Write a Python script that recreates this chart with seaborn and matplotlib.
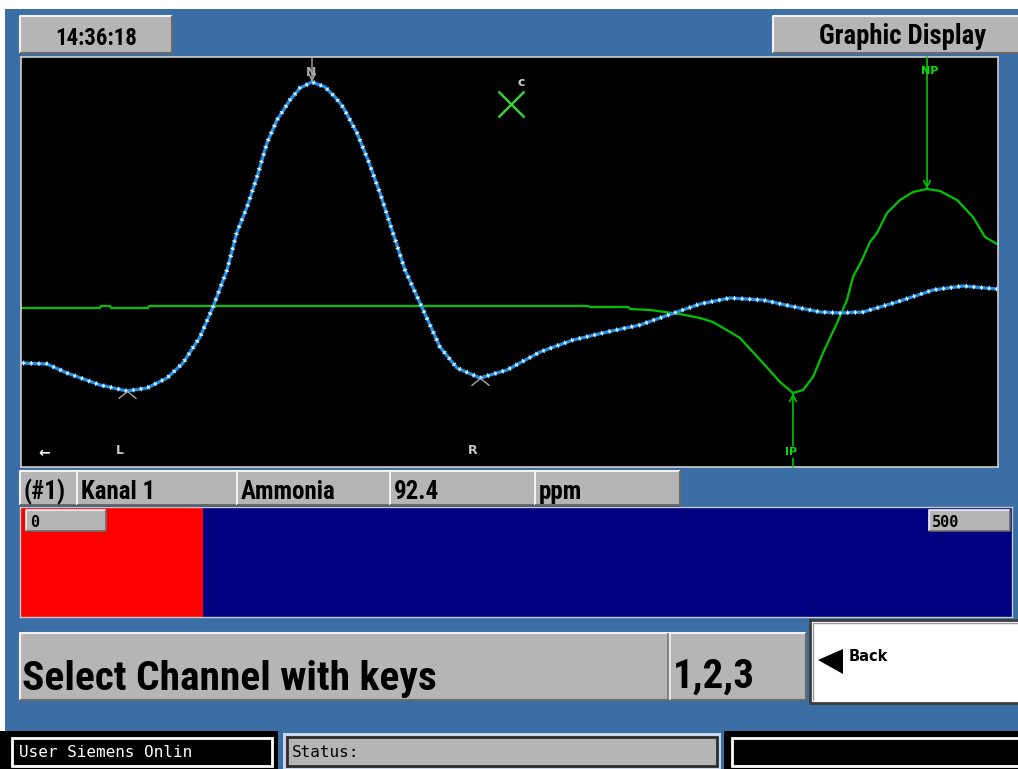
import matplotlib
matplotlib.use("Agg")
import os
import matplotlib.pyplot as plt
from matplotlib import font_manager
from matplotlib.patches import Rectangle, Polygon
from matplotlib.path import Path
import numpy as np
import pandas as pd
import seaborn as sns

W, H = 1018, 769

blue_t = [1, 26, 46, 79, 106, 126, 146, 162, 179, 192, 206, 216, 226, 236, 246, 256,
          269, 279, 291, 304, 314, 322, 336, 347, 359, 372, 384, 399, 419, 436, 459, 486,
          519, 552, 586, 619, 656, 679, 709, 742, 769, 799, 819, 842, 876, 912, 942, 976]
blue_s = [104, 103, 94, 82, 76, 79, 89, 104, 130, 160, 197, 235, 260, 290, 324, 347,
          367, 379, 385, 380, 370, 360, 334, 307, 274, 234, 197, 164, 120, 99, 89, 97,
          115, 127, 135, 142, 155, 163, 169, 167, 161, 155, 154, 155, 165, 177, 181, 178]

# reference / derivative trace
green_t = [0, 79, 80, 89, 90, 127, 128, 567, 569, 607, 609, 629, 659, 679, 692, 709, 719,
           742, 759, 772, 782, 792, 802, 816, 826, 832, 841, 849, 856, 866, 879, 892, 906,
           919, 936, 952, 964, 976]
green_s = [159, 159, 161, 161, 159, 159, 161, 161, 160, 160, 158, 157, 153, 149, 145, 135, 129,
           104, 85, 74, 77, 90, 114, 144, 167, 190, 207, 225, 234, 254, 267, 275, 278,
           276, 267, 250, 230, 223]

cursor_t, cursor_s = 490, 363

clock = "14:36:18"
title = "Graphic Display"
info_cells = ["(#1)", "Kanal 1", "Ammonia", "92.4", "ppm"]
reading = 92.4
scale_min, scale_max = 0, 500
message = "Select Channel with keys"
keys = "1,2,3"

BLUE_BG = "#3a6ea5"
GRAY = "#b5b5b5"
GREEN = "#00c400"
TRACE = "#1e8fe8"
MARK = "#a8a8a8"


def narrow_bold():
    files = {}
    for f in font_manager.fontManager.ttflist:
        base = os.path.splitext(os.path.basename(f.fname))[0].lower().replace("-", "").replace("_", "")
        files[base] = f.fname
    for want in ["notosansextracondensedbold", "robotocondensedbold", "opensanscondensedbold",
                 "notosanscondensedbold", "dejavusanscondensedbold", "liberationsansnarrowbold"]:
        if want in files:
            return font_manager.FontProperties(fname=files[want])
    return font_manager.FontProperties(family="DejaVu Sans", weight="bold")


hmi = narrow_bold()
mono = font_manager.FontProperties(family="DejaVu Sans Mono")
mono_b = font_manager.FontProperties(family="DejaVu Sans Mono", weight="bold")
plain_b = font_manager.FontProperties(family="DejaVu Sans", weight="bold")

plt.rcParams["lines.scale_dashes"] = False

fig = plt.figure(figsize=(W / 100, H / 100), dpi=100)
fig.patch.set_facecolor("white")
renderer = fig.canvas.get_renderer()


def frac(x0, y0, x1, y1):
    return [x0 / W, 1 - y1 / H, (x1 - x0) / W, (y1 - y0) / H]


def screen_axes(z):
    a = fig.add_axes([0, 0, 1, 1], zorder=z)
    a.set_xlim(0, W)
    a.set_ylim(H, 0)
    a.axis("off")
    a.patch.set_alpha(0)
    return a


def bevel(ax, x0, y0, x1, y1, face=GRAY, light="#f2f2f2", dark="#6a6a6a", lw=1.5):
    ax.add_patch(Rectangle((x0, y0), x1 - x0, y1 - y0, facecolor=face, edgecolor="none"))
    ax.plot([x0, x0, x1], [y1, y0, y0], color=light, lw=lw, solid_capstyle="butt")
    ax.plot([x0, x1, x1], [y1, y1, y0], color=dark, lw=lw, solid_capstyle="butt")


def put(ax, x, y, s, size, fp=None, color="black", ha="left", va="baseline"):
    p = (fp or hmi).copy()
    p.set_size(size)
    return ax.text(x, y, s, fontproperties=p, color=color, ha=ha, va=va)


def fit(t, width, max_size):
    bb = t.get_window_extent(renderer)
    t.set_fontsize(min(max_size, t.get_fontsize() * width / bb.width))


# ---- background panel ----
bg = screen_axes(0)
bg.add_patch(Rectangle((5, 9), W - 5, H - 9, facecolor=BLUE_BG, edgecolor="none"))

bevel(bg, 20, 16, 172, 53)
t = put(bg, 96, 45, clock, 20, ha="center")
fit(t, 82, 22)
bevel(bg, 773, 16, 1020, 53)
t = put(bg, 903, 44, title, 20, ha="center")
fit(t, 166, 22)

# info row
cells = [20, 77, 237, 390, 535, 680]
for (a, b), txt in zip(zip(cells[:-1], cells[1:]), info_cells):
    bevel(bg, a, 471, b, 505)
    put(bg, a + 4, 499, txt, 18)
bg.plot([20, 680], [506, 506], color="#2a4f7a", lw=1)

# message row
bevel(bg, 20, 633, 806, 700)
bg.plot([670, 670], [634, 699], color="#f2f2f2", lw=1.2)
bg.plot([668.5, 668.5], [634, 699], color="#7a7a7a", lw=1.2)
t = put(bg, 22, 690, message, 40)
fit(t, 414, 60)
t = put(bg, 673, 688, keys, 40)
fit(t, 82, 60)

# back button
bg.add_patch(Rectangle((810, 620), 212, 83, facecolor="white", edgecolor="#3c3c3c", lw=2))
bg.plot([813, 813, 1018], [700, 623, 623], color="#9a9a9a", lw=1)
bg.add_patch(Polygon([[818, 660], [843, 649], [843, 674]], closed=True, facecolor="black", edgecolor="none"))
put(bg, 849, 661, "Back", 10.5, fp=plain_b)

# status row
bg.add_patch(Rectangle((0, 731), 278, 40, facecolor="black", edgecolor="none"))
bg.add_patch(Rectangle((12, 738), 260, 28, facecolor="black", edgecolor="white", lw=2))
put(bg, 19, 757, "User Siemens Onlin", 11.5, fp=mono, color="white")
bg.add_patch(Rectangle((283, 733), 438, 36, facecolor="#c8d6e6", edgecolor="none"))
bg.add_patch(Rectangle((287, 737), 430, 29, facecolor=GRAY, edgecolor="#2c2c2c", lw=2))
put(bg, 292, 757, "Status:", 11.5, fp=mono)
bg.add_patch(Rectangle((724, 731), 300, 40, facecolor="black", edgecolor="none"))
bg.add_patch(Rectangle((732, 738), 290, 28, facecolor="black", edgecolor="white", lw=2))

# ---- trace display ----
ax = fig.add_axes(frac(21, 57, 998, 467), zorder=2)
ax.set_facecolor("black")
blue = pd.DataFrame({"t": blue_t, "s": blue_s})
green = pd.DataFrame({"t": green_t, "s": green_s})

sns.lineplot(data=green, x="t", y="s", color=GREEN, lw=1.6, estimator=None, sort=False, ax=ax)
sns.lineplot(data=blue, x="t", y="s", color=TRACE, lw=2.4, estimator=None, sort=False, ax=ax)
# the little "+" sample marks along the trace
ax.plot(blue_t, blue_s, color="#dff0ff", lw=1.1, ls=(0, (2.4, 3.1)), solid_capstyle="butt")
ax.plot(blue_t, blue_s, color="#dff0ff", lw=3.4, ls=(4.7, (0.8, 4.7)))

ax.set_xlim(0, 977)
ax.set_ylim(0, 410)
ax.set_xticks([])
ax.set_yticks([])
ax.set_xlabel("")
ax.set_ylabel("")
for sp in ax.spines.values():
    sp.set_color("#d0d0d0")
    sp.set_linewidth(1.2)

bt = np.array(blue_t)
bs = np.array(blue_s)
i_n = int(np.argmax(bs))
left = bt < bt[i_n]
right = (bt > bt[i_n]) & (bt < 600)
i_l = int(np.flatnonzero(left)[np.argmin(bs[left])])
i_r = int(np.flatnonzero(right)[np.argmin(bs[right])])

gt = np.array(green_t)
gs = np.array(green_s)
i_np = int(np.argmax(gs))
i_ip = int(np.argmin(gs))

caret = Path([(-1, -0.8), (0, 0), (1, -0.8)], [Path.MOVETO, Path.LINETO, Path.LINETO])

# N peak
ax.annotate("", xy=(bt[i_n], bs[i_n]), xytext=(bt[i_n], 410),
            arrowprops=dict(arrowstyle="->", color=MARK, lw=1, shrinkA=0, shrinkB=0, mutation_scale=12))
ax.text(bt[i_n] - 1, 395, "N", color=MARK, ha="center", va="center", fontproperties=plain_b, fontsize=9)
# L / R valleys
for i, lab in [(i_l, "L"), (i_r, "R")]:
    ax.plot([bt[i]], [bs[i]], marker=caret, ms=13, mfc="none", mec=MARK, mew=1, ls="none")
    ax.text(bt[i] - 7, 17, lab, color="#c8c8c8", ha="center", va="center", fontproperties=plain_b, fontsize=9)

# NP / IP markers on the green trace
ax.annotate("", xy=(gt[i_np], gs[i_np]), xytext=(gt[i_np], 410),
            arrowprops=dict(arrowstyle="->", color=GREEN, lw=1.2, shrinkA=0, shrinkB=0, mutation_scale=12))
ax.text(gt[i_np] + 3, 396, "NP", color="#00e000", ha="center", va="center", fontproperties=plain_b, fontsize=8)
ax.annotate("", xy=(gt[i_ip], gs[i_ip]), xytext=(gt[i_ip], 0),
            arrowprops=dict(arrowstyle="->", color=GREEN, lw=1.2, shrinkA=0, shrinkB=0, mutation_scale=12))
ax.text(gt[i_ip] - 2, 15, "IP", color="#00e000", ha="center", va="center", fontproperties=plain_b, fontsize=8,
        bbox=dict(facecolor="black", edgecolor="none", pad=0.5))

# cursor
ax.plot([cursor_t], [cursor_s], marker="x", ms=19, mew=1.8, color="#3ccf3c", ls="none")
ax.text(cursor_t + 10, cursor_s + 21, "c", color="#c8c8c8", ha="center", va="center", fontproperties=plain_b, fontsize=9)
ax.text(23, 14, "←", color="white", ha="center", va="center", fontproperties=plain_b, fontsize=10)

# ---- bar gauge ----
axb = fig.add_axes(frac(20, 507, 1012, 617), zorder=2)
axb.set_facecolor("#000080")
sns.barplot(x=[reading], y=[info_cells[2]], orient="h", color="#ff0000", saturation=1,
            width=1, linewidth=0, ax=axb)
axb.set_xlim(scale_min, scale_max)
axb.set_xticks([])
axb.set_yticks([])
axb.set_xlabel("")
axb.set_ylabel("")
for sp in axb.spines.values():
    sp.set_color("#c8c8c8")
    sp.set_linewidth(1)

fg = screen_axes(3)
bevel(fg, 26, 510, 106, 531, lw=1.2)
put(fg, 30, 527, str(scale_min), 11, fp=mono_b)
bevel(fg, 929, 510, 1010, 531, lw=1.2)
put(fg, 932, 527, str(scale_max), 11, fp=mono_b)

fig.savefig("out.png", dpi=100, facecolor=fig.get_facecolor())
